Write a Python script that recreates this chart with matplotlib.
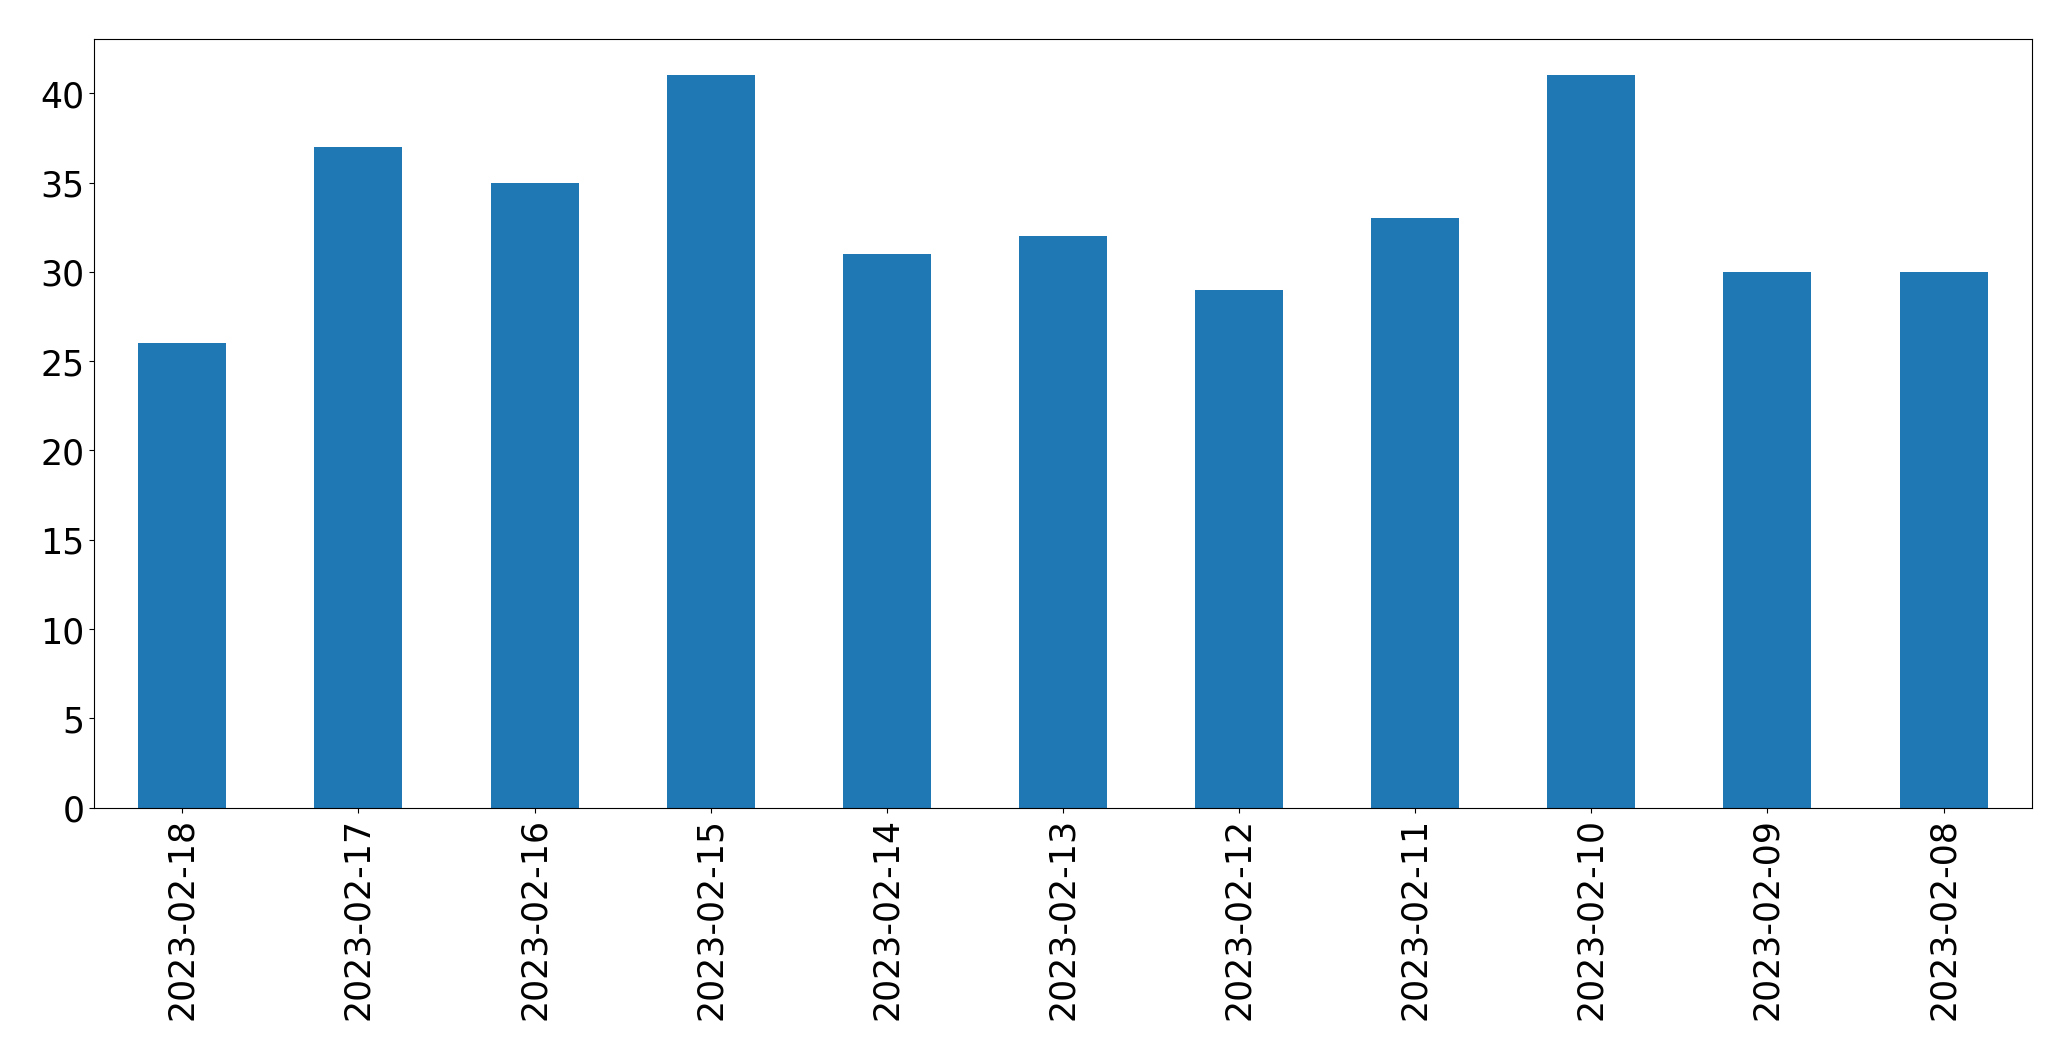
import pandas as pd
import matplotlib
matplotlib.use('Agg')
import matplotlib.pyplot as plt

# Données
dates = ['2023-02-18', '2023-02-17', '2023-02-16', '2023-02-15', '2023-02-14',
         '2023-02-13', '2023-02-12', '2023-02-11', '2023-02-10', '2023-02-09',
         '2023-02-08']
counts = [26, 37, 35, 41, 31, 32, 29, 33, 41, 30, 30]

s = pd.Series(counts, index=dates)

fig, ax = plt.subplots(figsize=(20.71, 10.605), dpi=100)
s.plot(kind='bar', ax=ax, color='#1f77b4', fontsize=25)
ax.set_yticks(range(0, 45, 5))
plt.subplots_adjust(left=0.0455, right=0.981, top=0.963, bottom=0.238)
plt.savefig('out.png', dpi=100)
